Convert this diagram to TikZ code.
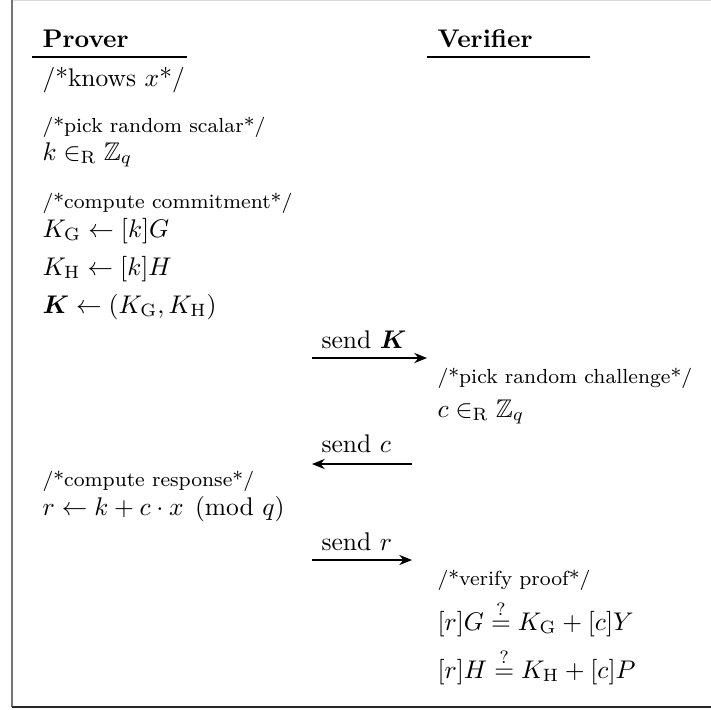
\documentclass[tikz,border=0pt]{standalone}
\usepackage{amsmath,amssymb}
\usetikzlibrary{arrows.meta, positioning}

\begin{document}
\begin{tikzpicture}[
  x=0.392pt, y=-0.392pt,
  txt/.style={anchor=base west, inner sep=0pt},
  cmt/.style={txt, font=\footnotesize},
  head/.style={txt, font=\bfseries},
  rule/.style={line width=0.5pt},
  msg/.style={-{Stealth[length=5pt, width=4pt]}, line width=0.5pt}
]
\useasboundingbox (0,0) rectangle (711,709);

% Frame
\draw[black!15, line width=0.6pt] (12,0.5) -- (711,0.5);
\draw[black!55, line width=1pt] (12,0) -- (12,707);
\draw[black!85, line width=0.8pt] (12,707) -- (711,707);

% Headers
\node[head] (prover)   at (42,47)  {Prover};
\node[head] (verifier) at (437,47) {Verifier};
\draw[rule] (32,57) -- (187,57);
\draw[rule] (427,57) -- (590,57);

% Prover: commitment
\node[txt] (knows)  at (42,86)  {/*knows $x$*/};
\node[cmt] (c-scal) at (42,132) {/*pick random scalar*/};
\node[txt] (k)      at (42,160) {$k \in_{\mathrm{R}} \mathbb{Z}_q$};
\node[cmt] (c-com)  at (42,208) {/*compute commitment*/};
\node[txt] (kg)     at (42,237) {$K_{\mathrm{G}} \leftarrow [k]G$};
\node[txt] (kh)     at (42,275) {$K_{\mathrm{H}} \leftarrow [k]H$};
\node[txt] (kk)     at (42,313) {$\boldsymbol{K} \leftarrow (K_{\mathrm{G}}, K_{\mathrm{H}})$};

% Verifier: challenge
\node[cmt] (c-chal) at (437,383) {/*pick random challenge*/};
\node[txt] (c)      at (437,417) {$c \in_{\mathrm{R}} \mathbb{Z}_q$};

% Prover: response
\node[cmt] (c-resp) at (42,486) {/*compute response*/};
\node[txt] (r)      at (42,515) {$r \leftarrow k + c \cdot x \pmod q$};

% Verifier: check
\node[cmt] (c-ver)  at (437,585) {/*verify proof*/};
\node[txt] (chk-g)  at (437,630) {$[r]G \stackrel{?}{=} K_{\mathrm{G}} + [c]Y$};
\node[txt] (chk-h)  at (437,678) {$[r]H \stackrel{?}{=} K_{\mathrm{H}} + [c]P$};

% Messages
\coordinate (m1-l) at (312,358);
\coordinate (m1-r) at (427,358);
\coordinate (m2-l) at (312,464);
\coordinate (m2-r) at (412,464);
\coordinate (m3-l) at (312,560);
\coordinate (m3-r) at (412,560);

\draw[msg] (m1-l) -- (m1-r);
\draw[msg] (m2-r) -- (m2-l);
\draw[msg] (m3-l) -- (m3-r);

\node[txt] (s1) at (321,348) {send $\boldsymbol{K}$};
\node[txt] (s2) at (321,452) {send $c$};
\node[txt] (s3) at (321,550) {send $r$};

\end{tikzpicture}
\end{document}
